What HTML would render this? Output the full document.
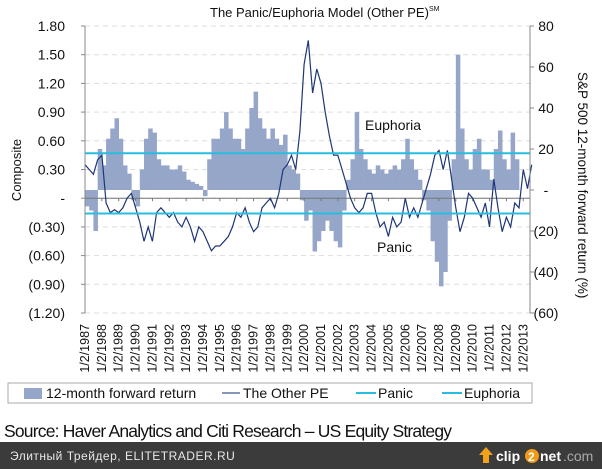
<!DOCTYPE html>
<html><head><meta charset="utf-8"><style>
body{margin:0;width:602px;height:469px;background:#fff;overflow:hidden;font-family:"Liberation Sans","DejaVu Sans",sans-serif;}
svg{position:absolute;left:0;top:0}
</style></head><body>
<svg id="chart" width="602" height="469"></svg>
<script>
const leftTicks=[1.8,1.5,1.2,0.9,0.6,0.3,0,-0.3,-0.6,-0.9,-1.2];
const leftTickLabels=["1.80","1.50","1.20","0.90","0.60","0.30","-","(0.30)","(0.60)","(0.90)","(1.20)"];
const rightTicks=[80,60,40,20,0,-20,-40,-60];
const rightTickLabels=["80","60","40","20","-","(20)","(40)","(60)"];
const years=[1987,1988,1989,1990,1991,1992,1993,1994,1995,1996,1997,1998,1999,2000,2001,2002,2003,2004,2005,2006,2007,2008,2009,2010,2011,2012,2013];
const compositeStart=1987, returnsStart=1987, step=0.25;
const euphoriaLevel=0.47, panicLevel=-0.16;
const composite=[.35,.30,.25,.40, .45,-.05,-.15,-.12, -.15,-.10,.0,.05, -.10,-.25,-.45,-.30, -.45,-.15,-.10,-.15, -.20,-.15,-.25,-.30, -.20,-.30,-.45,-.30, -.35,-.45,-.55,-.50, -.50,-.45,-.40,-.30, -.15,-.20,-.10,-.25, -.35,-.30,-.10,-.05, .0,-.10,.05,.30, .35,.45,.30,.70, 1.40,1.65,1.10,1.35, 1.20,.90,.65,.45, .45,.30,.15,.0, -.10,-.15,-.10,.05, .05,-.15,-.30,-.25, -.40,-.20,-.30,-.25, .0,-.20,-.10,-.20, -.05,.10,.25,.45, .50,.30,.50,.20, -.10,-.35,-.20,.05, .0,-.10,-.20,-.05, -.30,.20,-.10,-.35, -.20,-.30,-.05,-.10, .30,.10,.35];
const fwdReturns=[-8,-10,-20,20, 12,25,30,35, 25,12,8,-5, -8,10,25,30, 28,15,12,12, 10,10,12,9, 5,4,3,2, -3,15,25,25, 30,38,30,25, 25,20,30,40, 48,35,30,25, 30,25,22,27, 12,10,8,-5, -15,-10,-30,-25, -20,-15,-20,-25, -28,-10,5,15, 38,20,15,10, 8,12,10,8, 10,12,10,15, 25,15,10,5, -5,-10,-25,-35, -47,-40,-15,15, 66,30,15,10, 20,25,10,10, 5,20,29,15, 10,28,15];

const X0=85,X1=530,Y0=26,Y1=313;
const xS=y=>X0+(y-1987)*(X1-X0)/26.4;
const yL=v=>Y0+(1.8-v)/3.0*(Y1-Y0);
const yR=v=>Y0+(80-v)/140*(Y1-Y0);
const svg=document.getElementById('chart');
const NS='http://www.w3.org/2000/svg';
function mk(tag,at,txt){const e=document.createElementNS(NS,tag);for(const k in at)e.setAttribute(k,at[k]);if(txt!==undefined)e.textContent=txt;svg.appendChild(e);return e;}

let e;
leftTicks.forEach((t,i)=>{
 e=mk('line',{x1:X0,x2:X1,y1:yL(t),y2:yL(t),stroke:'#ddd','stroke-dasharray':'5,4'});
 
 
 e=mk('line',{x1:X0-4,x2:X0,y1:yL(t),y2:yL(t),stroke:'#888'});
 e=mk('text',{x:65,y:yL(t)+5,'text-anchor':'end','font-size':14,fill:'#111'},leftTickLabels[i]);
 
 
});
rightTicks.forEach((t,i)=>{
 mk('line',{x1:X1,x2:X1+4,y1:yR(t),y2:yR(t),stroke:'#888'});
 e=mk('text',{x:546,y:yR(t)+5,'text-anchor':'middle','font-size':14,fill:'#111'},rightTickLabels[i]);
 
 
});
const bw=(X1-X0)/26.4*step;
fwdReturns.forEach((v,i)=>{
 const x=xS(returnsStart+i*step),y0=yR(0),y=yR(v);
 e=mk('rect',{x:x,y:Math.min(y,y0),width:bw+0.3,height:Math.abs(y-y0),fill:'#95a6c9'});
 
 
});
e=mk('line',{x1:X0,x2:X1,y1:yL(0),y2:yL(0),stroke:'#777','stroke-width':1});


years.forEach(y=>{
 mk('line',{x1:xS(y),x2:xS(y),y1:yL(0),y2:yL(0)+3,stroke:'#777'});
 e=mk('text',{transform:`translate(${xS(y)+4},324) rotate(-90)`,'text-anchor':'end','font-size':12.5,fill:'#111'},'1/2/'+y);
 
 
});
let d='';composite.forEach((v,i)=>{d+=(i?'L':'M')+xS(compositeStart+i*step).toFixed(1)+','+yL(v).toFixed(1);});
e=mk('path',{d:d,fill:'none',stroke:'#1d3677','stroke-width':1.2});


e=mk('line',{x1:X0,x2:X1,y1:yL(euphoriaLevel),y2:yL(euphoriaLevel),stroke:'#27bde0','stroke-width':2});


e=mk('line',{x1:X0,x2:X1,y1:yL(panicLevel),y2:yL(panicLevel),stroke:'#27bde0','stroke-width':2});


mk('line',{x1:X0,x2:X0,y1:Y0,y2:Y1,stroke:'#888'});
mk('line',{x1:X1,x2:X1,y1:Y0,y2:Y1,stroke:'#888'});
e=mk('text',{x:365,y:130,'font-size':14,fill:'#111'},'Euphoria');


e=mk('text',{x:377,y:252,'font-size':14,fill:'#111'},'Panic');


e=mk('text',{x:210,y:17,'font-size':13,fill:'#111'});
e.innerHTML='The Panic/Euphoria Model (Other PE)<tspan font-size="7" dy="-6">SM</tspan>';


e=mk('text',{transform:'translate(21,170) rotate(-90)','text-anchor':'middle','font-size':13,fill:'#111'},'Composite');


e=mk('text',{transform:'translate(578,72) rotate(90)','font-size':13.5,fill:'#111'},'S&P 500 12-month forward return (%)');


e=mk('rect',{x:8,y:383,width:524,height:20,fill:'#fff',stroke:'#aaa'});


mk('rect',{x:24,y:388,width:18,height:11,fill:'#95a6c9'});
e=mk('text',{x:46,y:398,'font-size':14,fill:'#111'},'12-month forward return');


mk('line',{x1:222,x2:240,y1:393,y2:393,stroke:'#8a96b8','stroke-width':2});
e=mk('text',{x:243,y:398,'font-size':14,fill:'#111'},'The Other PE');


mk('line',{x1:356,x2:376,y1:393,y2:393,stroke:'#27bde0','stroke-width':2});
e=mk('text',{x:378,y:398,'font-size':14,fill:'#111'},'Panic');


mk('line',{x1:442,x2:462,y1:393,y2:393,stroke:'#27bde0','stroke-width':2});
e=mk('text',{x:464,y:398,'font-size':14,fill:'#111'},'Euphoria');


e=mk('text',{x:4,y:437,'font-size':17.5,fill:'#111',textLength:448},'Source: Haver Analytics and Citi Research – US Equity Strategy');


e=mk('rect',{x:0,y:442,width:602,height:27,fill:'#3b3b3b'});


e=mk('text',{x:10,y:460,'font-size':12,fill:'#e8e8e8','letter-spacing':'0.5'},'Элитный Трейдер, ELITETRADER.RU');


mk('path',{d:'M483,463 L483,455 L479,455 L486,447 L493,455 L489,455 L489,463 Z',fill:'#f2a21a'});
mk('text',{x:496,y:461,'font-size':14,'font-weight':'bold',fill:'#fff'},'clip');
mk('circle',{cx:532,cy:456,r:7,fill:'#f29a18'});
mk('text',{x:528,y:461,'font-size':12,'font-weight':'bold',fill:'#fff'},'2');
mk('text',{x:540,y:461,'font-size':14,'font-weight':'bold',fill:'#fff'},'net');
e=mk('text',{x:563,y:461,'font-size':14,fill:'#aaa'},'.com');


</script>
</body></html>
